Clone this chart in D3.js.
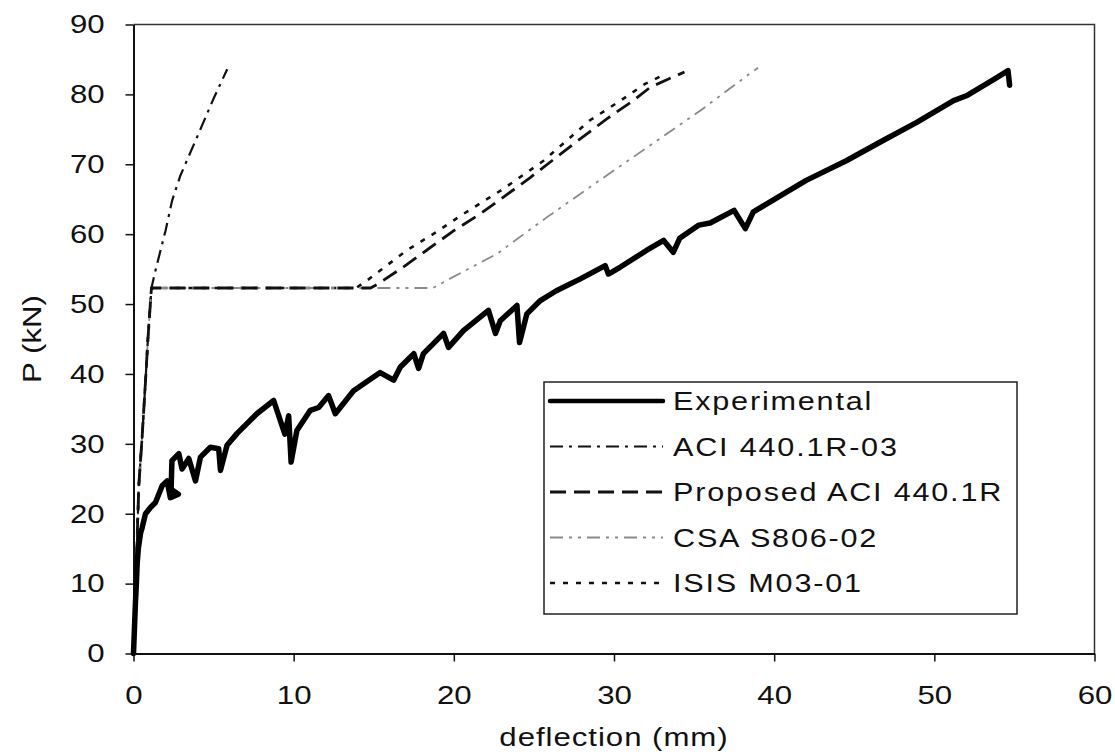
<!DOCTYPE html>
<html>
<head>
<meta charset="utf-8">
<script src="https://cdn.jsdelivr.net/npm/d3@7"></script>
<style>
  html, body { margin: 0; padding: 0; background: #fff; }
  svg { display: block; }
  text { font-family: "Liberation Sans", Arial, sans-serif; fill: #111; }
</style>
</head>
<body>
<svg id="chart" width="1115" height="754"></svg>
<script>
// Load–deflection response: measured curve and code predictions
const expDeflection = [0,0.05,0.12,0.18,0.23,0.3,0.44,0.54,0.75,1.06,1.37,1.79,2.1,2.3,2.8,2.35,2.4,2.83,3.03,3.45,3.87,4.18,4.8,5.32,5.43,5.84,6.47,7.7,8.75,9.45,9.69,9.84,10.2,11.04,11.56,12.18,12.6,13.74,15.4,16.24,16.66,17.5,17.8,18.1,19.36,19.67,20.6,22.16,22.6,22.9,23.94,24.1,24.56,25.4,26.4,27.9,29.45,29.65,30.4,32.05,33.1,33.7,34.1,35.3,36.0,37.5,38.2,38.7,40.4,42.0,44.5,46.8,48.9,51.2,52.0,53.9,54.6,54.7];
const expLoad       = [0,3,7.2,10,12.9,15,17.2,18,20,20.9,21.6,24,24.7,22.3,22.8,23.5,27.6,28.6,26.4,27.9,24.7,28.1,29.5,29.3,26.2,29.8,31.5,34.3,36.2,31.4,34,27.4,31.9,34.8,35.2,36.9,34.3,37.6,40.2,39.1,41,42.9,40.8,42.9,45.8,43.8,46.2,49.1,45.8,47.6,49.8,44.5,48.6,50.5,51.9,53.6,55.5,54.3,55.3,57.7,59.1,57.4,59.4,61.3,61.6,63.4,60.8,63.2,65.5,67.7,70.5,73.4,76,79.1,79.8,82.4,83.4,81.3];

// Uncracked branch shared by all predictions
const baseDeflection = [0,0.12,0.23,0.33,0.54,0.75,0.9,1.12];
const baseLoad       = [0,5,16.7,24,31,39,45,52.3];

const aci03Deflection = [1.35,1.58,2.0,2.41,2.93,3.97,5.0,5.85];
const aci03Load       = [54.6,56.7,60.5,64.8,68.4,73.9,79.4,83.6];

const propDeflection = [14.8,15.2,16.66,18.3,20.0,21.65,23.1,24.77,27.47,29.55,31.2,32.25,33.3,34.4];
const propLoad       = [52.3,52.8,55.0,57.7,60.5,62.9,65.3,68.1,72.9,76.5,79.1,81.0,82.1,83.2];

const csaDeflection = [18.7,19.57,22.7,25.8,29.1,32.25,35.4,38.5,39.0];
const csaLoad       = [52.3,53.4,57.2,62.4,67.7,72.7,77.7,83.0,83.8];

const isisDeflection = [13.9,14.6,15.4,17.07,18.7,20.6,23.1,25.6,28.5,30.4,31.94,33.1];
const isisLoad       = [52.3,53.4,54.8,57.7,60.0,62.9,66.5,70.5,76.3,79.1,81.5,82.8];

const xTicks = [0,10,20,30,40,50,60];
const yTicks = [0,10,20,30,40,50,60,70,80,90];

const seriesNames = ["Experimental","ACI 440.1R-03","Proposed ACI 440.1R","CSA S806-02","ISIS M03-01"];

const zip = (xs, ys) => xs.map((x, i) => [x, ys[i]]);
const series = [
  { name: seriesNames[0], pts: zip(expDeflection, expLoad), stroke: "#000", width: 5.5, dash: null },
  { name: seriesNames[1], pts: zip(baseDeflection.concat(aci03Deflection), baseLoad.concat(aci03Load)), stroke: "#111", width: 2.2, dash: "13 6 3 6" },
  { name: seriesNames[2], pts: zip(baseDeflection.concat(propDeflection), baseLoad.concat(propLoad)), stroke: "#111", width: 2.8, dash: "16 8" },
  { name: seriesNames[3], pts: zip(baseDeflection.concat(csaDeflection), baseLoad.concat(csaLoad)), stroke: "#8a8a8a", width: 1.8, dash: "13 6 3 6 3 6" },
  { name: seriesNames[4], pts: zip(baseDeflection.concat(isisDeflection), baseLoad.concat(isisLoad)), stroke: "#111", width: 2.6, dash: "5 8" }
];

const svg = d3.select("#chart");
const X0 = 133.5, X1 = 1094.5, Y0 = 653.5, Y1 = 24.5;
const x = d3.scaleLinear().domain([0, 60]).range([X0, X1]);
const y = d3.scaleLinear().domain([0, 90]).range([Y0, Y1]);
const SX = 1.2; // horizontal stretch of lettering

// plot frame (top and right edges)
svg.append("path")
  .attr("d", `M${X0},${Y1}H${X1}V${Y0}`)
  .attr("fill", "none").attr("stroke", "#333").attr("stroke-width", 1.5);

// axes
const yAxis = svg.append("g").attr("transform", `translate(${X0},0)`)
  .call(d3.axisLeft(y).tickValues(yTicks).tickSize(8).tickPadding(16).tickSizeOuter(0));
const xAxis = svg.append("g").attr("transform", `translate(0,${Y0})`)
  .call(d3.axisBottom(x).tickValues(xTicks).tickSize(8).tickPadding(24).tickSizeOuter(0));

[yAxis, xAxis].forEach(g => {
  g.select(".domain").attr("stroke", "#111").attr("stroke-width", 2);
  g.selectAll(".tick line").attr("stroke", "#111").attr("stroke-width", 1.5);
  g.selectAll(".tick text")
    .attr("font-size", 26).attr("font-family", "Liberation Sans, Arial, sans-serif")
    .attr("fill", "#111")
    .attr("transform", `scale(${SX},1)`);
});

// curves
const line = d3.line().x(d => x(d[0])).y(d => y(d[1]));
series.slice().reverse().forEach(s => {
  svg.append("path")
    .datum(s.pts)
    .attr("d", line)
    .attr("fill", "none")
    .attr("stroke", s.stroke)
    .attr("stroke-width", s.width)
    .attr("stroke-linejoin", "round")
    .attr("stroke-linecap", s.dash ? "butt" : "round")
    .attr("stroke-dasharray", s.dash);
});

// axis titles
svg.append("g").attr("transform", `translate(${(X0 + X1) / 2},746) scale(${SX},1)`)
  .append("text").attr("text-anchor", "middle").attr("font-size", 26)
  .attr("letter-spacing", 0.8).text("deflection (mm)");
svg.append("g").attr("transform", `translate(41,${(Y0 + Y1) / 2}) rotate(-90) scale(${SX},1)`)
  .append("text").attr("text-anchor", "middle").attr("font-size", 26)
  .text("P (kN)");

// legend
const LX = 544, LY = 382, LW = 473, LH = 232;
const legend = svg.append("g");
legend.append("rect").attr("x", LX).attr("y", LY).attr("width", LW).attr("height", LH)
  .attr("fill", "#fff").attr("stroke", "#222").attr("stroke-width", 1.5);
const rowY = d3.scalePoint().domain(seriesNames).range([401, 583]);
series.forEach(s => {
  const ry = rowY(s.name);
  legend.append("line")
    .attr("x1", 550).attr("x2", 663).attr("y1", ry).attr("y2", ry)
    .attr("stroke", s.stroke).attr("stroke-width", s.width > 5 ? 4.5 : s.width)
    .attr("stroke-linecap", s.dash ? "butt" : "round")
    .attr("stroke-dasharray", s.dash);
  legend.append("g").attr("transform", `translate(673,${ry + 9}) scale(${SX},1)`)
    .append("text").attr("font-size", 25.5).attr("letter-spacing", 1.5).text(s.name);
});
</script>
</body>
</html>
